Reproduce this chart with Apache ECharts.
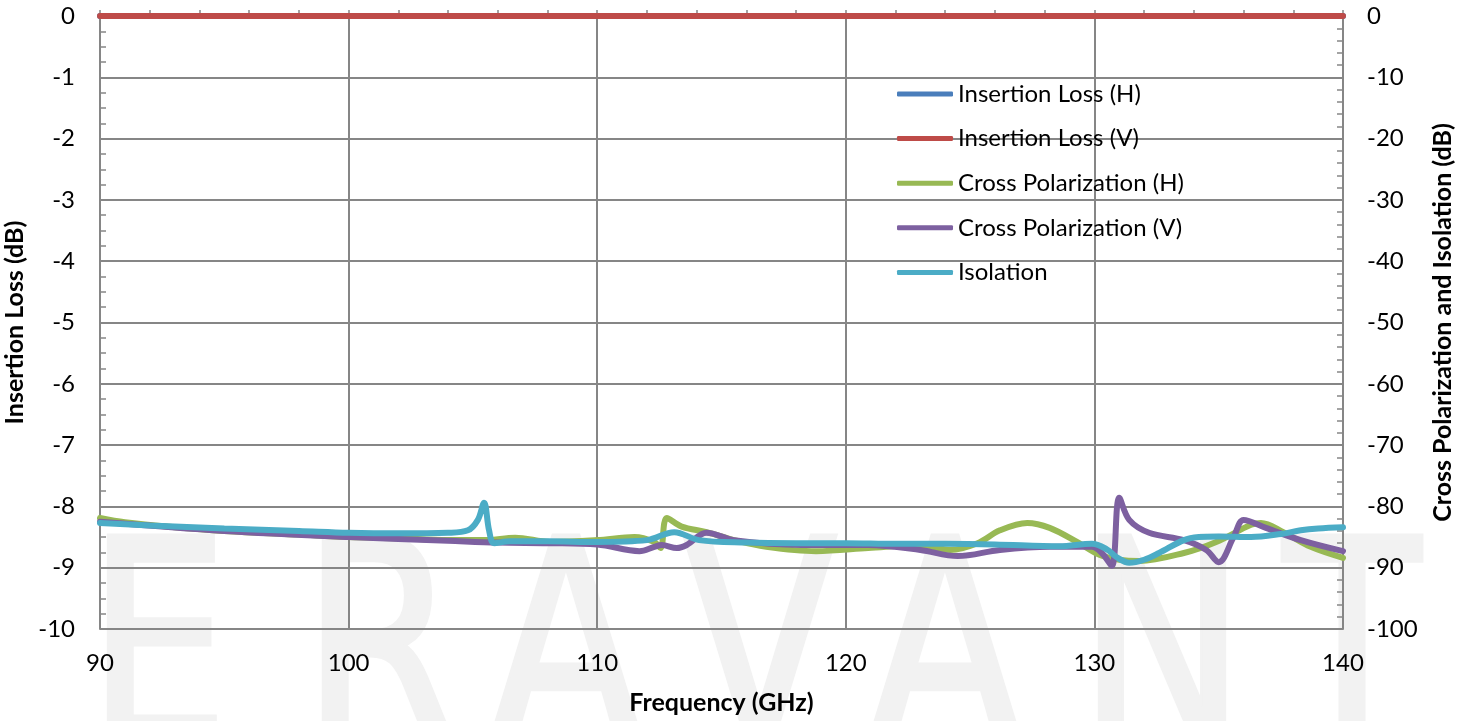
<!DOCTYPE html>
<html>
<head>
<meta charset="utf-8">
<script src="https://cdn.jsdelivr.net/npm/echarts@6/dist/echarts.min.js"></script>
<style>
  html, body { margin: 0; padding: 0; background: #fff; }
  #main { width: 1471px; height: 721px; }
</style>
</head>
<body>
<div id="main"></div>
<script>
// frequency axis in GHz
var ilFreq = [90, 100, 110, 120, 130, 140];
var ilH = [0, 0, 0, 0, 0, 0];
var ilV = [0, 0, 0, 0, 0, 0];

var xpolHFreq = [90, 91, 93, 95, 98, 100, 102, 104, 105.5, 106.7, 108.1, 110, 111.5, 112.3, 112.55, 112.8, 113.4, 114.4, 115.5, 116.8, 118.8, 120.9, 123, 124.2, 125.3, 126.2, 127.3, 128.2, 129.3, 130.2, 131, 131.8, 133.6, 134.9, 136.3, 136.7, 137.6, 138.7, 140];
var xpolH = [-81.9, -82.6, -83.4, -84.0, -84.6, -85.0, -85.2, -85.5, -85.5, -85.1, -85.8, -85.5, -85.0, -85.8, -86.8, -81.9, -83.3, -84.2, -85.5, -86.6, -87.3, -86.8, -86.3, -87.1, -86.0, -83.9, -82.7, -83.5, -85.8, -87.9, -88.7, -88.9, -87.6, -85.8, -83.0, -82.7, -84.2, -86.6, -88.4];

var xpolVFreq = [90, 95, 100, 104, 106, 108, 110, 111.7, 112.3, 112.6, 113.2, 113.6, 114.4, 115.5, 118.2, 120.9, 123, 124.5, 126.2, 128.2, 129.9, 130.3, 130.7, 131.0, 131.4, 132.2, 133.6, 134.5, 135.0, 135.6, 136.0, 136.9, 138.3, 140];
var xpolV = [-82.5, -84.0, -85.0, -85.6, -85.9, -86.0, -86.2, -87.3, -86.6, -86.3, -86.8, -86.3, -84.3, -85.5, -86.3, -86.3, -87.1, -88.1, -87.1, -86.6, -86.6, -87.6, -89.7, -78.6, -82.2, -84.3, -85.5, -87.1, -89.1, -85.0, -82.2, -83.5, -85.5, -87.3];

var isoFreq = [90, 92, 95, 98, 100, 102, 104, 104.8, 105.2, 105.45, 105.65, 105.85, 106.5, 108, 110, 112, 113.1, 114.1, 116, 118, 120, 122, 124, 126, 128.6, 129.9, 130.5, 130.9, 131.4, 132, 132.6, 133.6, 134.2, 135, 136.3, 137.5, 138.3, 139, 140];
var iso = [-82.7, -83.1, -83.6, -84.0, -84.3, -84.4, -84.3, -83.9, -82.2, -79.4, -83.9, -86.0, -85.7, -85.7, -85.8, -85.5, -84.2, -85.5, -85.9, -86.0, -86.0, -86.1, -86.1, -86.2, -86.5, -86.1, -87.0, -88.3, -89.2, -88.7, -87.6, -85.5, -85.0, -84.9, -85.0, -84.5, -83.9, -83.6, -83.4];

var watermark = ['E', 'R', 'A', 'V', 'A', 'N', 'T'];
var watermarkX = [158, 380, 566, 760, 945, 1162, 1352];

function pairs(xs, ys) {
  return xs.map(function (x, i) { return [x, ys[i]]; });
}

var axisGray = '#868686';
var font = 'Lato';

var chartDom = document.getElementById('main');
var myChart = echarts.init(chartDom);
var option;

function line(name, color, yIndex, data) {
  return {
    name: name,
    type: 'line',
    yAxisIndex: yIndex,
    data: data,
    symbol: 'none',
    smooth: 0.35,
    lineStyle: { width: 6, color: color, cap: 'round' },
    itemStyle: { color: color }
  };
}

option = {
  animation: false,
  backgroundColor: '#fff',
  textStyle: { fontFamily: font },
  // faint company watermark behind the plot
  graphic: watermark.map(function (ch, i) {
    return {
      type: 'text',
      z: -10,
      silent: true,
      x: watermarkX[i],
      y: 528,
      scaleX: 0.8,
      style: {
        text: ch,
        fill: '#f2f2f2',
        stroke: '#f2f2f2',
        lineWidth: 6,
        font: 'normal 280px "DejaVu Sans"',
        align: 'center',
        verticalAlign: 'top'
      }
    };
  }),
  grid: { left: 100, right: 128, top: 16, bottom: 92, outerBoundsMode: 'none', containLabel: false },
  legend: {
    orient: 'vertical',
    left: 897,
    top: 82,
    padding: 0,
    itemWidth: 56,
    itemHeight: 5,
    itemGap: 20.6,
    icon: 'roundRect',
    textStyle: { fontSize: 24, color: '#000', fontFamily: font }
  },
  xAxis: {
    type: 'value',
    min: 90,
    max: 140,
    interval: 10,
    name: 'Frequency (GHz)',
    nameLocation: 'middle',
    nameGap: 61,
    nameTextStyle: { fontSize: 25, fontWeight: 'bold', color: '#000' },
    axisLine: { lineStyle: { color: axisGray, width: 2 } },
    axisTick: { inside: true, length: 6, lineStyle: { color: axisGray, width: 1.5 } },
    minorTick: { show: true, splitNumber: 5, length: 6, lineStyle: { color: axisGray, width: 1.5 } },
    axisLabel: { fontSize: 24, color: '#000', margin: 22 },
    splitLine: { show: true, lineStyle: { color: axisGray, width: 2 } }
  },
  yAxis: [
    {
      type: 'value',
      min: -10,
      max: 0,
      interval: 1,
      name: 'Insertion Loss (dB)',
      nameLocation: 'middle',
      nameGap: 65,
      nameTextStyle: { fontSize: 25, fontWeight: 'bold', color: '#000' },
      axisLine: { show: true, lineStyle: { color: axisGray, width: 2 } },
      axisTick: { show: true, inside: true, length: 6, lineStyle: { color: axisGray, width: 1.5 } },
      minorTick: { show: true, splitNumber: 4, length: 6, lineStyle: { color: axisGray, width: 1.5 } },
      axisLabel: { fontSize: 24, color: '#000', margin: 25 },
      splitLine: { show: true, lineStyle: { color: axisGray, width: 2 } }
    },
    {
      type: 'value',
      position: 'right',
      min: -100,
      max: 0,
      interval: 10,
      name: 'Cross Polarization and Isolation (dB)',
      nameLocation: 'middle',
      nameGap: 87,
      nameRotate: 90,
      nameTextStyle: { fontSize: 25, fontWeight: 'bold', color: '#000' },
      axisLine: { show: true, lineStyle: { color: axisGray, width: 2 } },
      axisTick: { show: true, inside: true, length: 6, lineStyle: { color: axisGray, width: 1.5 } },
      minorTick: { show: true, splitNumber: 5, length: 6, lineStyle: { color: axisGray, width: 1.5 } },
      axisLabel: { fontSize: 24, color: '#000', margin: 24 },
      splitLine: { show: false }
    }
  ],
  series: [
    line('Insertion Loss (H)', '#4a7ebb', 0, pairs(ilFreq, ilH)),
    line('Insertion Loss (V)', '#be4b48', 0, pairs(ilFreq, ilV)),
    line('Cross Polarization (H)', '#98b954', 1, pairs(xpolHFreq, xpolH)),
    line('Cross Polarization (V)', '#7d60a0', 1, pairs(xpolVFreq, xpolV)),
    line('Isolation', '#4bacc6', 1, pairs(isoFreq, iso))
  ]
};

option && myChart.setOption(option);
</script>
</body>
</html>
